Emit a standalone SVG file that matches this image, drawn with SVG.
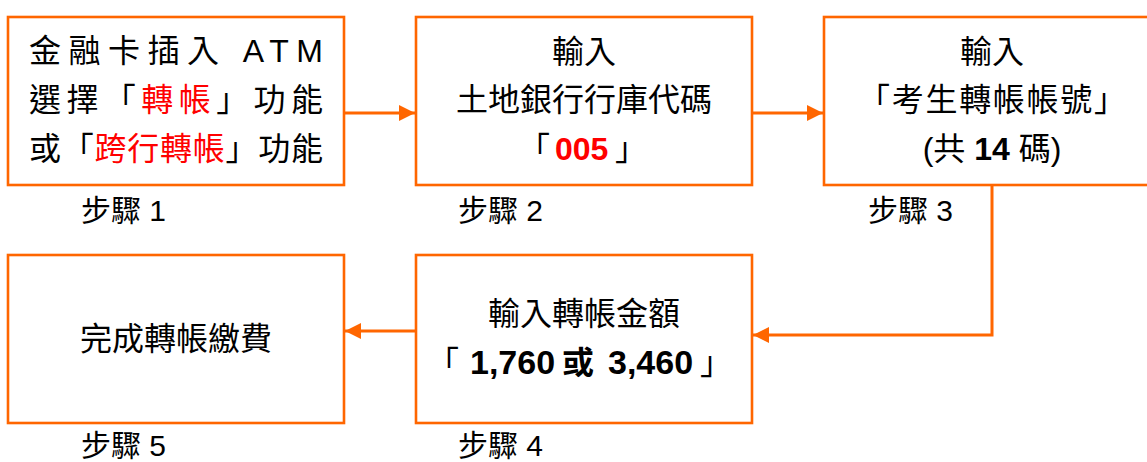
<svg xmlns="http://www.w3.org/2000/svg" width="1147" height="462" viewBox="0 0 1147 462">
<style>
.box{fill:#fff;stroke:#FF6600;stroke-width:2.6}
.con{fill:none;stroke:#FF6600;stroke-width:3}
.t{font-family:"Liberation Sans","Noto Sans CJK TC",sans-serif;font-size:32px;fill:#000}
.lb{font-family:"Liberation Sans","Noto Sans CJK TC",sans-serif;font-size:30px;fill:#000}
.c{text-anchor:middle}
.r{fill:#FF0000}
.b{font-weight:bold}
.n{font-size:34px}
</style>
<defs>
<marker id="ah" viewBox="0 0 16 16" refX="16" refY="8" markerWidth="16" markerHeight="16" markerUnits="userSpaceOnUse" orient="auto">
<path d="M0,0 L16,8 L0,16 Z" fill="#FF6600"/>
</marker>
</defs>
<g id="connectors">
<line class="con" x1="344" y1="113" x2="415" y2="113" marker-end="url(#ah)"/>
<line class="con" x1="752" y1="113" x2="823" y2="113" marker-end="url(#ah)"/>
<polyline class="con" points="992,185 992,335 753,335" marker-end="url(#ah)"/>
<line class="con" x1="416" y1="331" x2="345" y2="331" marker-end="url(#ah)"/>
</g>
<g id="step1">
<rect class="box" x="8" y="17" width="336" height="168"/>
<text class="t" x="29" y="62" textLength="294" lengthAdjust="spacing">金融卡插入 ATM</text>
<text class="t" x="29" y="111" textLength="294" lengthAdjust="spacing">選擇「<tspan class="r">轉帳</tspan>」功能</text>
<text class="t" x="29" y="160" textLength="294" lengthAdjust="spacing">或「<tspan class="r">跨行轉帳</tspan>」功能</text>
<text class="lb" x="81" y="221">步驟 1</text>
</g>
<g id="step2">
<rect class="box" x="416" y="17" width="336" height="168"/>
<text class="t c" x="584" y="63">輸入</text>
<text class="t c" x="584" y="111">土地銀行行庫代碼</text>
<text class="t" x="518" y="160">「</text>
<text class="t r b" x="555" y="160" font-size="33">005</text>
<text class="t" x="615" y="160">」</text>
<text class="lb" x="458" y="221">步驟 2</text>
</g>
<g id="step3">
<rect class="box" x="824" y="17" width="336" height="168"/>
<text class="t c" x="992" y="63">輸入</text>
<text class="t c" x="992" y="111" textLength="268" lengthAdjust="spacing">「考生轉帳帳號」</text>
<text class="t c" x="992" y="160">(共 <tspan class="b">14</tspan> 碼)</text>
<text class="lb" x="868" y="221">步驟 3</text>
</g>
<g id="step4">
<rect class="box" x="416" y="255" width="336" height="168"/>
<text class="t c" x="584" y="325">輸入轉帳金額</text>
<text class="t" x="427" y="374">「</text>
<text class="t b n" x="470" y="374">1,760</text>
<text class="t b" x="562" y="374">或</text>
<text class="t b n" x="608" y="374">3,460</text>
<text class="t" x="700" y="374">」</text>
<text class="lb" x="458" y="456">步驟 4</text>
</g>
<g id="step5">
<rect class="box" x="8" y="255" width="336" height="168"/>
<text class="t c" x="176" y="350">完成轉帳繳費</text>
<text class="lb" x="81" y="456">步驟 5</text>
</g>
</svg>
